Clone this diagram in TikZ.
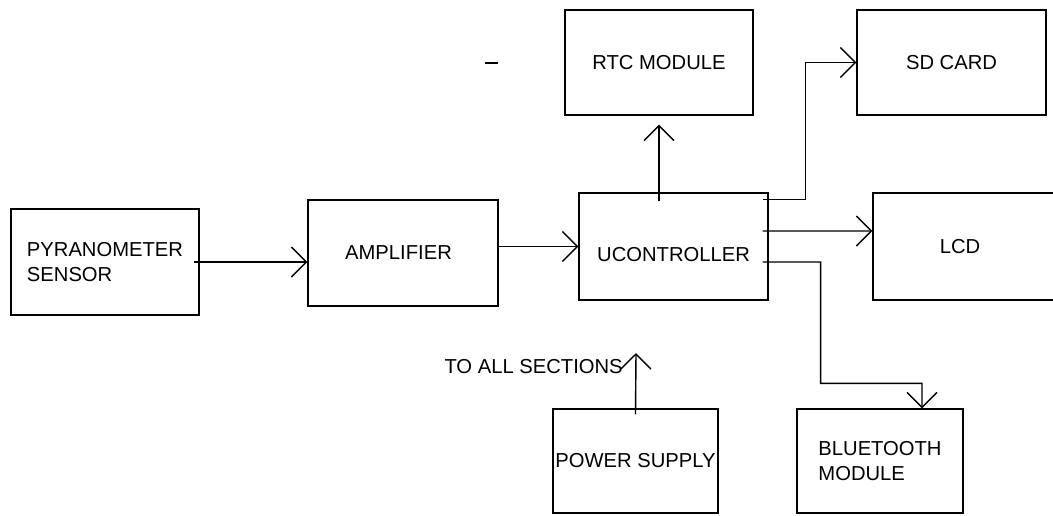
\documentclass[tikz,border=0pt]{standalone}
\usepackage{fontspec}
\setmainfont{Liberation Sans}
\usetikzlibrary{arrows.meta,positioning}
\tikzstyle{block} = [draw, line width=0.8pt, inner sep=0pt, align=left, font=\fontsize{11.5}{14.2}\selectfont]
\tikzstyle{sigarrow} = [line width=0.8pt, -{Straight Barb[length=0.3cm,width=0.6cm]}]
\begin{document}
\begin{tikzpicture}[x=0.02cm, y=-0.02cm]
\useasboundingbox (0,0) rectangle (1053,515);

% Blocks
\node[block, minimum width=3.76cm, minimum height=2.12cm] (pyr) at (105,262) {PYRANOMETER\\SENSOR};
\node[block, minimum width=3.8cm, minimum height=2.12cm] (amp) at (403,253) {\hspace*{-0.18cm}AMPLIFIER};
\node[block, minimum width=3.78cm, minimum height=2.14cm] (uc) at (673.5,246.5) {\raisebox{-0.16cm}[\height][\depth]{UCONTROLLER}};
\node[block, minimum width=3.76cm, minimum height=2.1cm] (rtc) at (659,62.5) {RTC MODULE};
\node[block, minimum width=3.78cm, minimum height=2.1cm] (sd) at (951.5,62.5) {SD CARD};
\node[block, minimum width=3.76cm, minimum height=2.14cm] (lcd) at (967,246.5) {\hspace*{-0.28cm}LCD};
\node[block, minimum width=3.3cm, minimum height=2.08cm] (ps) at (635.5,461) {POWER SUPPLY};
\node[block, minimum width=3.32cm, minimum height=2.08cm] (bt) at (880,461) {BLUETOOTH\\MODULE};

% Stray mark
\draw[line width=0.8pt] (485,63) -- (498,63);

% Signal chain
\draw[sigarrow] ([xshift=-0.12cm]pyr.east) -- (pyr.east -| amp.west);
\draw[sigarrow] (amp.east |- uc.west) -- (uc.west);

% Controller outputs
\coordinate (rtcin) at (rtc.south |- uc.north);
\draw[sigarrow] ([yshift=-0.18cm]rtcin) -- ([yshift=-0.18cm]rtc.south);
\draw[sigarrow] ([shift={(-6,7)}]uc.north east) -- ++(43,0) |- (sd.west);
\draw[sigarrow] ([shift={(-6,-15.5)}]uc.east) -- ([yshift=0.31cm]lcd.west);
\draw[sigarrow] ([shift={(-6,15.5)}]uc.east) -- ++(58,0) |- ([shift={(42,-25)}]bt.north) -- ([xshift=0.84cm]bt.north);

% Power
\coordinate (allsec) at (636,353);
\draw[sigarrow] ([yshift=-0.12cm]ps.north) -- (allsec);
\node[font=\fontsize{11.5}{14.2}\selectfont, anchor=east, inner sep=0pt] (tas) at (623,367) {TO ALL SECTIONS};

\end{tikzpicture}
\end{document}
